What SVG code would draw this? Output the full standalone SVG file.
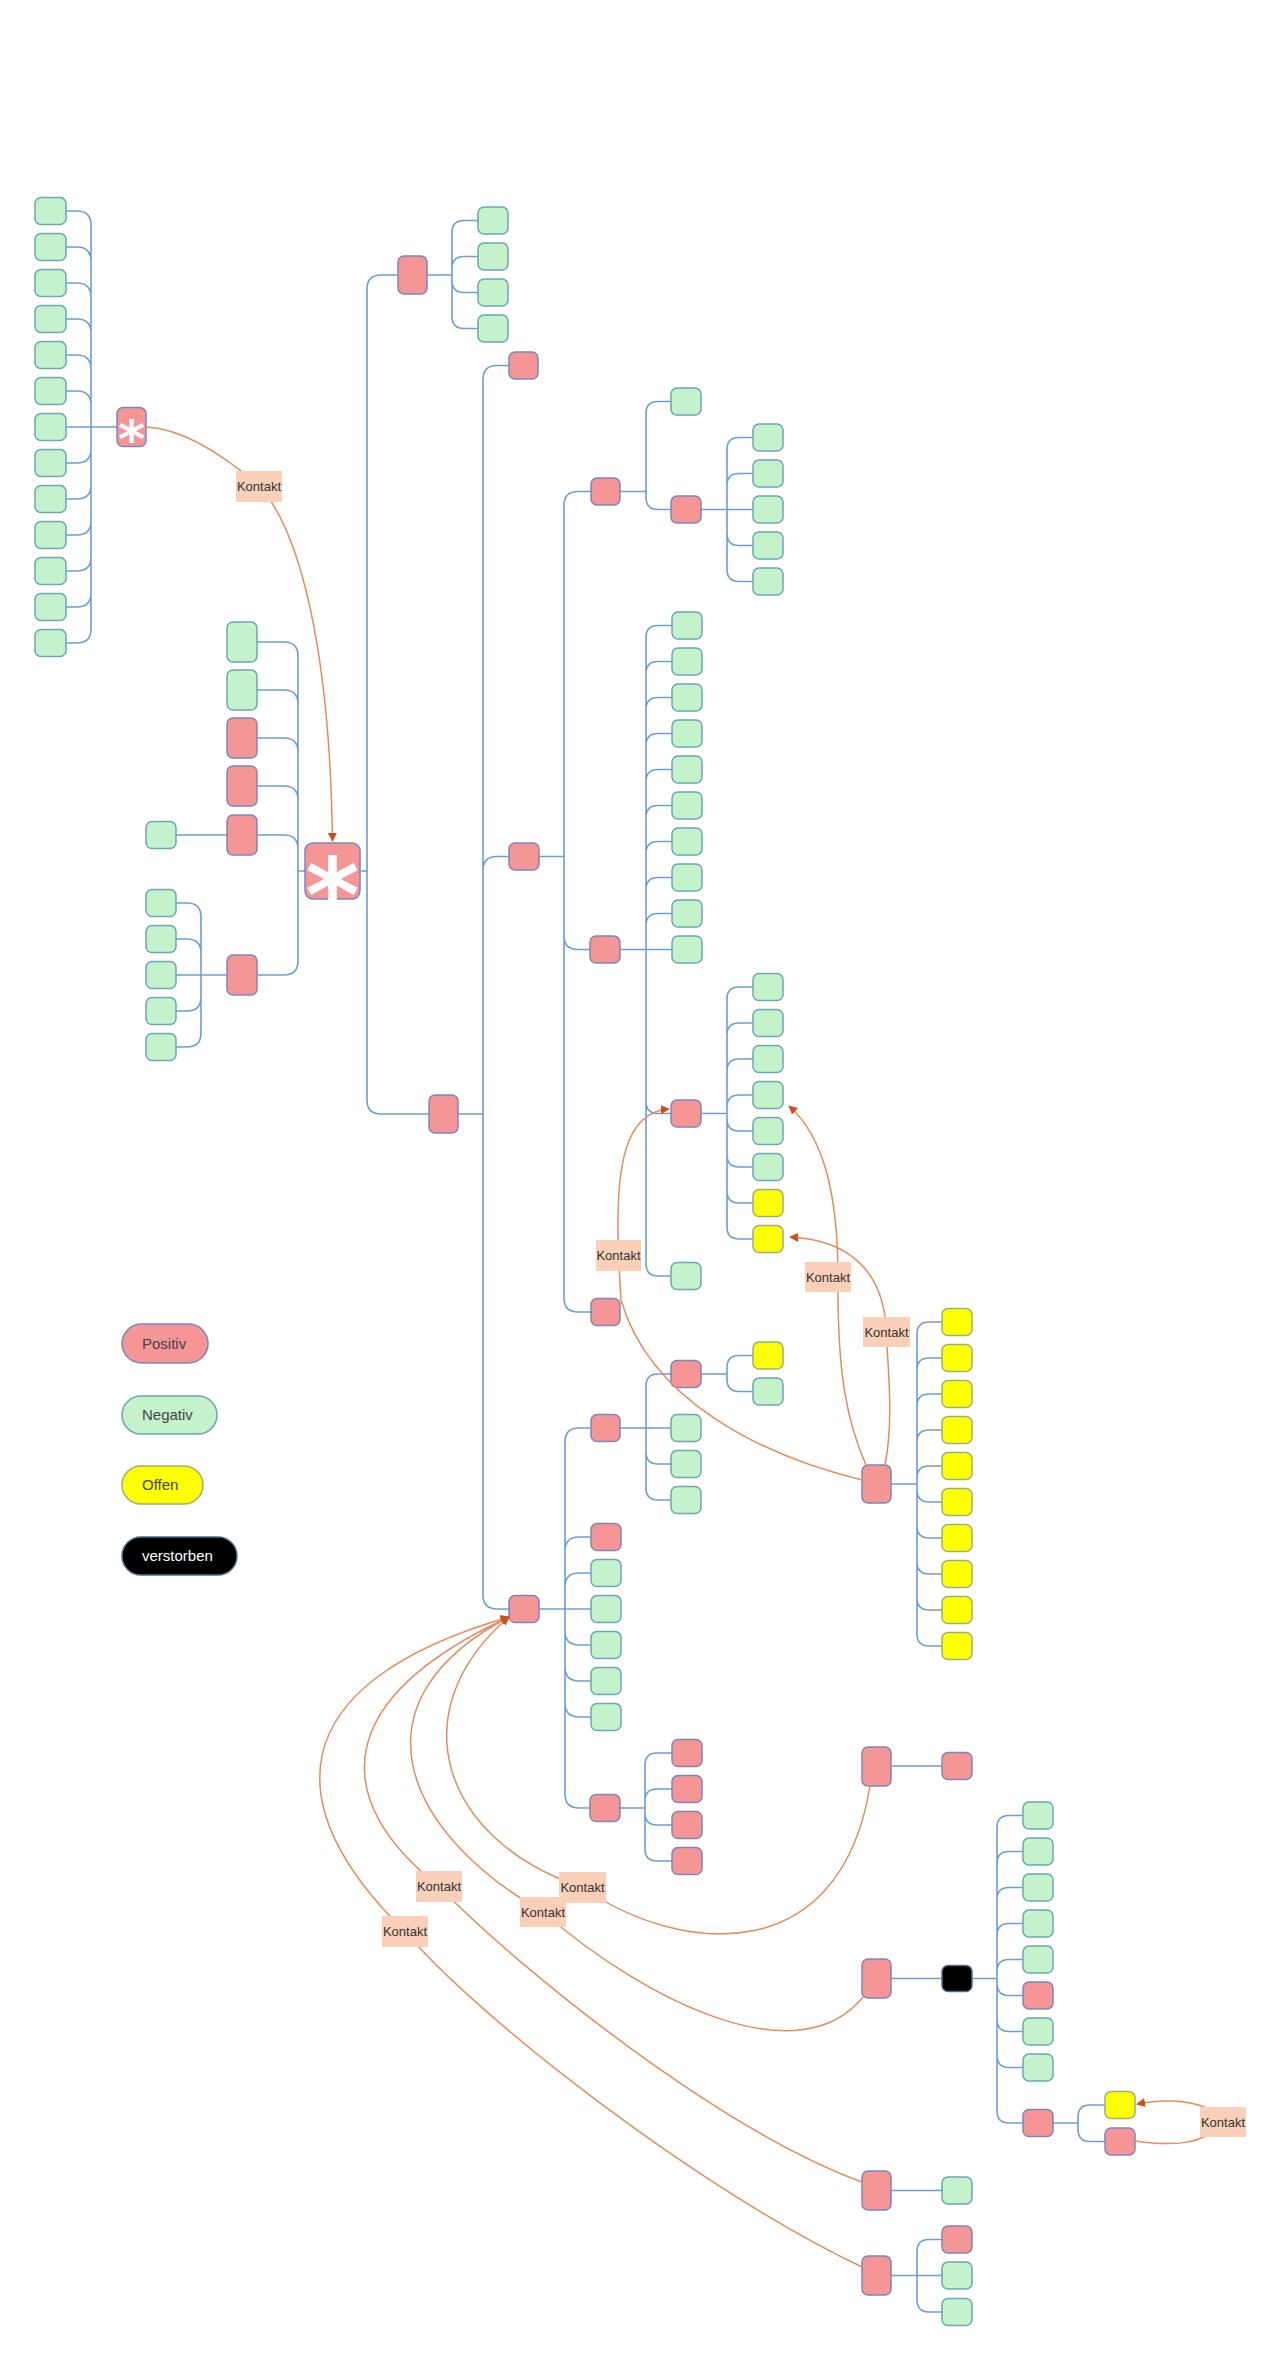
<svg xmlns="http://www.w3.org/2000/svg" width="1283" height="2362" viewBox="0 0 1283 2362">
<style>
.r{fill:#f59595;stroke:#7b86bf;stroke-width:1.5}
.g{fill:#c4f2cb;stroke:#6aa6b8;stroke-width:1.5}
.y{fill:#ffff00;stroke:#95b37a;stroke-width:1.5}
.k{fill:#000;stroke:#4d6e8e;stroke-width:1.5}
.c{fill:none;stroke:#6c9fd2;stroke-width:1.6}
.o{fill:none;stroke:#e38d5d;stroke-width:1.5}
.lb{fill:#fbd0b9}
.lt{font-family:"Liberation Sans",Arial,sans-serif;font-size:13px;fill:#333;text-anchor:middle}
.le{font-family:"Liberation Sans",Arial,sans-serif;font-size:15px;fill:#444}
.ast{font-family:"DejaVu Sans",sans-serif;font-weight:bold;fill:#fff;text-anchor:middle}
</style>
<defs>
<marker id="ah" viewBox="0 0 10 10" refX="9" refY="5" markerWidth="9" markerHeight="9" markerUnits="userSpaceOnUse" orient="auto"><path d="M0,0 L10,5 L0,10 z" fill="#c9521c"/></marker>
</defs>
<rect width="1283" height="2362" fill="#fff"/>
<g id="connectors">
<path class="c" d="M91 225V629 M117 427H66 M91 225Q91 211 77 211H66 M91 261Q91 247 77 247H66 M91 297Q91 283 77 283H66 M91 333Q91 319 77 319H66 M91 369Q91 355 77 355H66 M91 405Q91 391 77 391H66 M91 449Q91 463 77 463H66 M91 485Q91 499 77 499H66 M91 521Q91 535 77 535H66 M91 557Q91 571 77 571H66 M91 593Q91 607 77 607H66 M91 629Q91 643 77 643H66"/>
<path class="c" d="M298 656V961 M305 871H298 M298 656Q298 642 284 642H257 M298 704Q298 690 284 690H257 M298 752Q298 738 284 738H257 M298 800Q298 786 284 786H257 M298 849Q298 835 284 835H257 M298 961Q298 975 284 975H257"/>
<path class="c" d="M227 835H176"/>
<path class="c" d="M201 917V1033 M227 975H176 M201 917Q201 903 187 903H176 M201 953Q201 939 187 939H176 M201 997Q201 1011 187 1011H176 M201 1033Q201 1047 187 1047H176"/>
<path class="c" d="M367 289V1100 M360 871H367 M367 289Q367 275 381 275H398 M367 1100Q367 1114 381 1114H429"/>
<path class="c" d="M452 232.5V316.5 M427 275H452 M452 232.5Q452 220.5 464 220.5H478 M452 268.5Q452 256.5 464 256.5H478 M452 280.5Q452 292.5 464 292.5H478 M452 316.5Q452 328.5 464 328.5H478"/>
<path class="c" d="M483 379.5V1595 M458 1114H483 M483 379.5Q483 365.5 497 365.5H509 M483 870.5Q483 856.5 497 856.5H509 M483 1595Q483 1609 497 1609H509"/>
<path class="c" d="M564 505.5V1298 M539 856.5H564 M564 505.5Q564 491.5 578 491.5H591 M564 935.5Q564 949.5 578 949.5H590 M564 1298Q564 1312 578 1312H591"/>
<path class="c" d="M646 413.5V497.5 M620 491.5H646 M646 413.5Q646 401.5 658 401.5H671 M646 497.5Q646 509.5 658 509.5H671"/>
<path class="c" d="M727 449.5V569.5 M701 509.5H753 M727 449.5Q727 437.5 739 437.5H753 M727 485.5Q727 473.5 739 473.5H753 M727 533.5Q727 545.5 739 545.5H753 M727 569.5Q727 581.5 739 581.5H753"/>
<path class="c" d="M646 637.5V1264 M620 949.5H672 M646 637.5Q646 625.5 658 625.5H672 M646 673.5Q646 661.5 658 661.5H672 M646 709.5Q646 697.5 658 697.5H672 M646 745.5Q646 733.5 658 733.5H672 M646 781.5Q646 769.5 658 769.5H672 M646 817.5Q646 805.5 658 805.5H672 M646 853.5Q646 841.5 658 841.5H672 M646 889.5Q646 877.5 658 877.5H672 M646 925.5Q646 913.5 658 913.5H672 M646 1101.5Q646 1113.5 658 1113.5H671 M646 1264Q646 1276 658 1276H671"/>
<path class="c" d="M727 999V1227 M701 1113.5H727 M727 999Q727 987 739 987H753 M727 1035Q727 1023 739 1023H753 M727 1071Q727 1059 739 1059H753 M727 1107Q727 1095 739 1095H753 M727 1119Q727 1131 739 1131H753 M727 1155Q727 1167 739 1167H753 M727 1191Q727 1203 739 1203H753 M727 1227Q727 1239 739 1239H753"/>
<path class="c" d="M565 1442V1794 M539 1609H591 M565 1442Q565 1428 579 1428H591 M565 1551Q565 1537 579 1537H591 M565 1587Q565 1573 579 1573H591 M565 1631Q565 1645 579 1645H591 M565 1667Q565 1681 579 1681H591 M565 1703Q565 1717 579 1717H591 M565 1794Q565 1808 579 1808H590"/>
<path class="c" d="M646 1386V1488 M620 1428H671 M646 1386Q646 1374 658 1374H671 M646 1452Q646 1464 658 1464H671 M646 1488Q646 1500 658 1500H671"/>
<path class="c" d="M727 1367.5V1379.5 M701 1374H727 M727 1367.5Q727 1355.5 739 1355.5H753 M727 1379.5Q727 1391.5 739 1391.5H753"/>
<path class="c" d="M645 1765V1849 M620 1808H645 M645 1765Q645 1753 657 1753H672 M645 1801Q645 1789 657 1789H672 M645 1813Q645 1825 657 1825H672 M645 1849Q645 1861 657 1861H672"/>
<path class="c" d="M917 1334V1634 M891 1484H917 M917 1334Q917 1322 929 1322H942 M917 1370Q917 1358 929 1358H942 M917 1406Q917 1394 929 1394H942 M917 1442Q917 1430 929 1430H942 M917 1478Q917 1466 929 1466H942 M917 1490Q917 1502 929 1502H942 M917 1526Q917 1538 929 1538H942 M917 1562Q917 1574 929 1574H942 M917 1598Q917 1610 929 1610H942 M917 1634Q917 1646 929 1646H942"/>
<path class="c" d="M891 1766H942 M891 1978.5H942 M891 2190.5H942"/>
<path class="c" d="M997 1827.5V2111 M972 1978.5H997 M997 1827.5Q997 1815.5 1009 1815.5H1023 M997 1863.5Q997 1851.5 1009 1851.5H1023 M997 1899.5Q997 1887.5 1009 1887.5H1023 M997 1935.5Q997 1923.5 1009 1923.5H1023 M997 1971.5Q997 1959.5 1009 1959.5H1023 M997 1983.5Q997 1995.5 1009 1995.5H1023 M997 2019.5Q997 2031.5 1009 2031.5H1023 M997 2055.5Q997 2067.5 1009 2067.5H1023 M997 2111Q997 2123 1009 2123H1023"/>
<path class="c" d="M1078 2117V2129.5 M1053 2123H1078 M1078 2117Q1078 2105 1090 2105H1105 M1078 2129.5Q1078 2141.5 1090 2141.5H1105"/>
<path class="c" d="M917 2251.5V2300 M891 2275.5H942 M917 2251.5Q917 2239.5 929 2239.5H942 M917 2300Q917 2312 929 2312H942"/>
</g>
<g id="nodes">
<g id="n-l0"><rect class="g" x="35" y="197.5" width="31" height="27" rx="6"/></g>
<g id="n-l1"><rect class="g" x="35" y="233.5" width="31" height="27" rx="6"/></g>
<g id="n-l2"><rect class="g" x="35" y="269.5" width="31" height="27" rx="6"/></g>
<g id="n-l3"><rect class="g" x="35" y="305.5" width="31" height="27" rx="6"/></g>
<g id="n-l4"><rect class="g" x="35" y="341.5" width="31" height="27" rx="6"/></g>
<g id="n-l5"><rect class="g" x="35" y="377.5" width="31" height="27" rx="6"/></g>
<g id="n-l6"><rect class="g" x="35" y="413.5" width="31" height="27" rx="6"/></g>
<g id="n-l7"><rect class="g" x="35" y="449.5" width="31" height="27" rx="6"/></g>
<g id="n-l8"><rect class="g" x="35" y="485.5" width="31" height="27" rx="6"/></g>
<g id="n-l9"><rect class="g" x="35" y="521.5" width="31" height="27" rx="6"/></g>
<g id="n-l10"><rect class="g" x="35" y="557.5" width="31" height="27" rx="6"/></g>
<g id="n-l11"><rect class="g" x="35" y="593.5" width="31" height="27" rx="6"/></g>
<g id="n-l12"><rect class="g" x="35" y="629.5" width="31" height="27" rx="6"/></g>
<g id="n-s1"><rect class="r" x="117" y="407.5" width="29" height="39" rx="6"/><text class="ast" x="131.5" y="457" font-size="52">*</text></g>
<g id="n-s2"><rect class="r" x="305" y="843" width="55" height="56" rx="8"/><text class="ast" x="332.5" y="932" font-size="104">*</text></g>
<g id="n-a1"><rect class="g" x="227" y="622" width="30" height="40" rx="6"/></g>
<g id="n-a2"><rect class="g" x="227" y="670" width="30" height="40" rx="6"/></g>
<g id="n-a3"><rect class="r" x="227" y="718" width="30" height="40" rx="6"/></g>
<g id="n-a4"><rect class="r" x="227" y="766" width="30" height="40" rx="6"/></g>
<g id="n-a5"><rect class="r" x="227" y="815" width="30" height="40" rx="6"/></g>
<g id="n-a6"><rect class="r" x="227" y="955" width="30" height="40" rx="6"/></g>
<g id="n-a5c"><rect class="g" x="146" y="821.5" width="30" height="27" rx="6"/></g>
<g id="n-a6c1"><rect class="g" x="146" y="889.5" width="30" height="27" rx="6"/></g>
<g id="n-a6c2"><rect class="g" x="146" y="925.5" width="30" height="27" rx="6"/></g>
<g id="n-a6c3"><rect class="g" x="146" y="961.5" width="30" height="27" rx="6"/></g>
<g id="n-a6c4"><rect class="g" x="146" y="997.5" width="30" height="27" rx="6"/></g>
<g id="n-a6c5"><rect class="g" x="146" y="1033.5" width="30" height="27" rx="6"/></g>
<g id="n-t1"><rect class="r" x="398" y="256" width="29" height="38" rx="6"/></g>
<g id="n-t1c1"><rect class="g" x="478" y="207" width="30" height="27" rx="6"/></g>
<g id="n-t1c2"><rect class="g" x="478" y="243" width="30" height="27" rx="6"/></g>
<g id="n-t1c3"><rect class="g" x="478" y="279" width="30" height="27" rx="6"/></g>
<g id="n-t1c4"><rect class="g" x="478" y="315" width="30" height="27" rx="6"/></g>
<g id="n-p"><rect class="r" x="429" y="1095" width="29" height="38" rx="6"/></g>
<g id="n-t2"><rect class="r" x="509" y="352" width="29" height="27" rx="6"/></g>
<g id="n-A"><rect class="r" x="509" y="843" width="30" height="27" rx="6"/></g>
<g id="n-G"><rect class="r" x="509" y="1595.5" width="30" height="27" rx="6"/></g>
<g id="n-r3"><rect class="r" x="591" y="478" width="29" height="27" rx="6"/></g>
<g id="n-r3c"><rect class="g" x="671" y="388" width="30" height="27" rx="6"/></g>
<g id="n-r4"><rect class="r" x="671" y="496" width="30" height="27" rx="6"/></g>
<g id="n-r4c1"><rect class="g" x="753" y="424" width="30" height="27" rx="6"/></g>
<g id="n-r4c2"><rect class="g" x="753" y="460" width="30" height="27" rx="6"/></g>
<g id="n-r4c3"><rect class="g" x="753" y="496" width="30" height="27" rx="6"/></g>
<g id="n-r4c4"><rect class="g" x="753" y="532" width="30" height="27" rx="6"/></g>
<g id="n-r4c5"><rect class="g" x="753" y="568" width="30" height="27" rx="6"/></g>
<g id="n-B"><rect class="r" x="590" y="936" width="30" height="27" rx="6"/></g>
<g id="n-b1"><rect class="g" x="672" y="612" width="30" height="27" rx="6"/></g>
<g id="n-b2"><rect class="g" x="672" y="648" width="30" height="27" rx="6"/></g>
<g id="n-b3"><rect class="g" x="672" y="684" width="30" height="27" rx="6"/></g>
<g id="n-b4"><rect class="g" x="672" y="720" width="30" height="27" rx="6"/></g>
<g id="n-b5"><rect class="g" x="672" y="756" width="30" height="27" rx="6"/></g>
<g id="n-b6"><rect class="g" x="672" y="792" width="30" height="27" rx="6"/></g>
<g id="n-b7"><rect class="g" x="672" y="828" width="30" height="27" rx="6"/></g>
<g id="n-b8"><rect class="g" x="672" y="864" width="30" height="27" rx="6"/></g>
<g id="n-b9"><rect class="g" x="672" y="900" width="30" height="27" rx="6"/></g>
<g id="n-b10"><rect class="g" x="672" y="936" width="30" height="27" rx="6"/></g>
<g id="n-C"><rect class="r" x="671" y="1100" width="30" height="27" rx="6"/></g>
<g id="n-c1"><rect class="g" x="753" y="973.5" width="30" height="27" rx="6"/></g>
<g id="n-c2"><rect class="g" x="753" y="1009.5" width="30" height="27" rx="6"/></g>
<g id="n-c3"><rect class="g" x="753" y="1045.5" width="30" height="27" rx="6"/></g>
<g id="n-c4"><rect class="g" x="753" y="1081.5" width="30" height="27" rx="6"/></g>
<g id="n-c5"><rect class="g" x="753" y="1117.5" width="30" height="27" rx="6"/></g>
<g id="n-c6"><rect class="g" x="753" y="1153.5" width="30" height="27" rx="6"/></g>
<g id="n-c7"><rect class="y" x="753" y="1189.5" width="30" height="27" rx="6"/></g>
<g id="n-c8"><rect class="y" x="753" y="1225.5" width="30" height="27" rx="6"/></g>
<g id="n-b12"><rect class="g" x="671" y="1262.5" width="30" height="27" rx="6"/></g>
<g id="n-r5"><rect class="r" x="591" y="1298.5" width="29" height="27" rx="6"/></g>
<g id="n-F"><rect class="r" x="591" y="1414.5" width="29" height="27" rx="6"/></g>
<g id="n-E"><rect class="r" x="671" y="1360.5" width="30" height="27" rx="6"/></g>
<g id="n-e1"><rect class="y" x="753" y="1342" width="30" height="27" rx="6"/></g>
<g id="n-e2"><rect class="g" x="753" y="1378" width="30" height="27" rx="6"/></g>
<g id="n-f1"><rect class="g" x="671" y="1414.5" width="30" height="27" rx="6"/></g>
<g id="n-f2"><rect class="g" x="671" y="1450.5" width="30" height="27" rx="6"/></g>
<g id="n-f3"><rect class="g" x="671" y="1486.5" width="30" height="27" rx="6"/></g>
<g id="n-g1"><rect class="r" x="591" y="1523.5" width="30" height="27" rx="6"/></g>
<g id="n-g2"><rect class="g" x="591" y="1559.5" width="30" height="27" rx="6"/></g>
<g id="n-g3"><rect class="g" x="591" y="1595.5" width="30" height="27" rx="6"/></g>
<g id="n-g4"><rect class="g" x="591" y="1631.5" width="30" height="27" rx="6"/></g>
<g id="n-g5"><rect class="g" x="591" y="1667.5" width="30" height="27" rx="6"/></g>
<g id="n-g6"><rect class="g" x="591" y="1703.5" width="30" height="27" rx="6"/></g>
<g id="n-H"><rect class="r" x="590" y="1794.5" width="30" height="27" rx="6"/></g>
<g id="n-h1"><rect class="r" x="672" y="1739.5" width="30" height="27" rx="6"/></g>
<g id="n-h2"><rect class="r" x="672" y="1775.5" width="30" height="27" rx="6"/></g>
<g id="n-h3"><rect class="r" x="672" y="1811.5" width="30" height="27" rx="6"/></g>
<g id="n-h4"><rect class="r" x="672" y="1847.5" width="30" height="27" rx="6"/></g>
<g id="n-D"><rect class="r" x="862" y="1465" width="29" height="38" rx="6"/></g>
<g id="n-d1"><rect class="y" x="942" y="1308.5" width="30" height="27" rx="6"/></g>
<g id="n-d2"><rect class="y" x="942" y="1344.5" width="30" height="27" rx="6"/></g>
<g id="n-d3"><rect class="y" x="942" y="1380.5" width="30" height="27" rx="6"/></g>
<g id="n-d4"><rect class="y" x="942" y="1416.5" width="30" height="27" rx="6"/></g>
<g id="n-d5"><rect class="y" x="942" y="1452.5" width="30" height="27" rx="6"/></g>
<g id="n-d6"><rect class="y" x="942" y="1488.5" width="30" height="27" rx="6"/></g>
<g id="n-d7"><rect class="y" x="942" y="1524.5" width="30" height="27" rx="6"/></g>
<g id="n-d8"><rect class="y" x="942" y="1560.5" width="30" height="27" rx="6"/></g>
<g id="n-d9"><rect class="y" x="942" y="1596.5" width="30" height="27" rx="6"/></g>
<g id="n-d10"><rect class="y" x="942" y="1632.5" width="30" height="27" rx="6"/></g>
<g id="n-K"><rect class="r" x="862" y="1747" width="29" height="39" rx="6"/></g>
<g id="n-k1"><rect class="r" x="942" y="1752.5" width="30" height="27" rx="6"/></g>
<g id="n-L"><rect class="r" x="862" y="1959" width="29" height="39" rx="6"/></g>
<g id="n-X"><rect class="k" x="942" y="1965.5" width="30" height="26" rx="6"/></g>
<g id="n-x1"><rect class="g" x="1023" y="1802" width="30" height="27" rx="6"/></g>
<g id="n-x2"><rect class="g" x="1023" y="1838" width="30" height="27" rx="6"/></g>
<g id="n-x3"><rect class="g" x="1023" y="1874" width="30" height="27" rx="6"/></g>
<g id="n-x4"><rect class="g" x="1023" y="1910" width="30" height="27" rx="6"/></g>
<g id="n-x5"><rect class="g" x="1023" y="1946" width="30" height="27" rx="6"/></g>
<g id="n-x6"><rect class="r" x="1023" y="1982" width="30" height="27" rx="6"/></g>
<g id="n-x7"><rect class="g" x="1023" y="2018" width="30" height="27" rx="6"/></g>
<g id="n-x8"><rect class="g" x="1023" y="2054" width="30" height="27" rx="6"/></g>
<g id="n-M"><rect class="r" x="1023" y="2109.5" width="30" height="27" rx="6"/></g>
<g id="n-m1"><rect class="y" x="1105" y="2091.5" width="30" height="27" rx="6"/></g>
<g id="n-m2"><rect class="r" x="1105" y="2128" width="30" height="27" rx="6"/></g>
<g id="n-I"><rect class="r" x="862" y="2171" width="29" height="39" rx="6"/></g>
<g id="n-i1"><rect class="g" x="942" y="2177" width="30" height="27" rx="6"/></g>
<g id="n-J"><rect class="r" x="862" y="2256" width="29" height="39" rx="6"/></g>
<g id="n-j1"><rect class="r" x="942" y="2226" width="30" height="27" rx="6"/></g>
<g id="n-j2"><rect class="g" x="942" y="2262" width="30" height="27" rx="6"/></g>
<g id="n-j3"><rect class="g" x="942" y="2298.5" width="30" height="27" rx="6"/></g>
</g>
<g id="contacts">
<path class="o" marker-end="url(#ah)" d="M147 427Q195 430 259 486C300 530 330 650 332.5 841"/>
<path class="o" marker-end="url(#ah)" d="M862 1480C760 1455 650 1400 621 1300L618.5 1255C615 1165 625 1112 669 1109"/>
<path class="o" marker-end="url(#ah)" d="M866 1465C846 1420 838 1370 838 1290L838 1277C838 1190 822 1135 789 1106"/>
<path class="o" marker-end="url(#ah)" d="M885 1465C892 1430 890 1390 887 1347L886.5 1332C884 1272 850 1240 790 1237"/>
<path class="o" marker-end="url(#ah)" d="M862 2267C700 2190 480 2020 405 1931.5C280 1810 275 1685 509 1617"/>
<path class="o" marker-end="url(#ah)" d="M862 2182C720 2130 520 1970 439 1886.5C330 1800 330 1700 509 1617"/>
<path class="o" marker-end="url(#ah)" d="M863 1997C800 2075 650 2005 543 1912C400 1830 350 1700 509 1617"/>
<path class="o" marker-end="url(#ah)" d="M870 1786C840 1970 680 1955 582.5 1887.5C440 1840 400 1710 509 1617"/>
<path class="o" marker-end="url(#ah)" d="M1135 2141C1170 2146 1205 2146 1222 2122C1210 2100 1170 2098 1137 2104"/>
</g>
<g id="labels">
<g id="lab1"><rect class="lb" x="236" y="471" width="46" height="31"/><text class="lt" x="259" y="491">Kontakt</text></g>
<g id="lab2"><rect class="lb" x="596" y="1240" width="45" height="31"/><text class="lt" x="618.5" y="1260">Kontakt</text></g>
<g id="lab3"><rect class="lb" x="805" y="1262" width="46" height="30"/><text class="lt" x="828" y="1281.5">Kontakt</text></g>
<g id="lab4"><rect class="lb" x="863" y="1317" width="47" height="30"/><text class="lt" x="886.5" y="1336.5">Kontakt</text></g>
<g id="lab5"><rect class="lb" x="416" y="1871" width="46" height="31"/><text class="lt" x="439" y="1891">Kontakt</text></g>
<g id="lab6"><rect class="lb" x="382" y="1916" width="46" height="31"/><text class="lt" x="405" y="1936">Kontakt</text></g>
<g id="lab7"><rect class="lb" x="520" y="1897" width="46" height="30"/><text class="lt" x="543" y="1916.5">Kontakt</text></g>
<g id="lab8"><rect class="lb" x="559" y="1872" width="47" height="31"/><text class="lt" x="582.5" y="1892">Kontakt</text></g>
<g id="lab9"><rect class="lb" x="1200" y="2107" width="46" height="30"/><text class="lt" x="1223" y="2126.5">Kontakt</text></g>
</g>
<g id="legend">
<g id="leg-pos"><rect class="r" x="122" y="1324" width="86" height="39" rx="19.5"/><text class="le" x="142" y="1349">Positiv</text></g>
<g id="leg-neg"><rect class="g" x="122" y="1396" width="95" height="38" rx="19"/><text class="le" x="142" y="1420">Negativ</text></g>
<g id="leg-off"><rect class="y" x="122" y="1466" width="81" height="38" rx="19"/><text class="le" x="142" y="1490">Offen</text></g>
<g id="leg-dead"><rect class="k" x="122" y="1537" width="115" height="38" rx="19"/><text class="le" x="142" y="1561" style="fill:#fff">verstorben</text></g>
</g>
</svg>
